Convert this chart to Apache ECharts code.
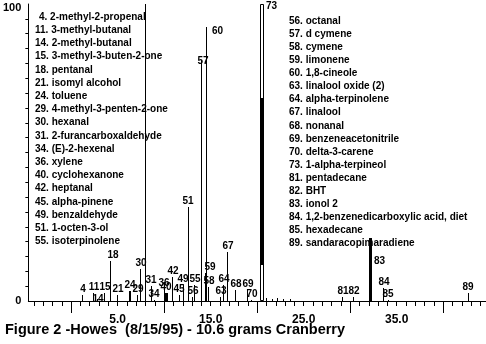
<!DOCTYPE html>
<html>
<head>
<meta charset="utf-8">
<script src="https://cdn.jsdelivr.net/npm/echarts@6/dist/echarts.min.js"></script>
<style>
  html, body { margin: 0; padding: 0; background: #fff; }
  #chart { width: 486px; height: 344px; }
</style>
</head>
<body>
<div id="chart"></div>
<script>
// Peak numbers, retention times (min) and relative abundance (%)
const peakIds = ['4', '11', '14', '15', '18', '21', '24', '29', '30', '', '31', '34', '36', '40', '42', '45',
  '49', '51', '55', '56', '57', '58', '59', '60', '63', '64', '67', '68', '69', '70', '73',
  '', '', '', '', '', '81', '82', '83', '84', '85', '89'];
const peakTimes = [1.27, 2.44, 2.87, 3.62, 4.26, 5.0, 6.3, 7.15, 7.46, 7.99, 8.63, 8.96, 10.0, 10.24, 10.9, 11.6,
  12.06, 12.57, 13.3, 13.1, 13.98, 14.8, 14.4, 14.6, 16.1, 16.4, 16.85, 17.7, 19.0, 19.4, 20.5,
  21.0, 21.6, 22.2, 22.8, 23.6, 29.2, 30.4, 32.2, 33.6, 34.1, 42.7];
const peakHeights = [2.0, 2.7, 0.8, 2.7, 13.5, 2.0, 3.4, 2.0, 10.8, 100, 5.0, 0.5, 4.0, 2.7, 8.0, 2.0,
  5.4, 31.6, 5.4, 1.3, 81.0, 4.7, 9.4, 92.3, 1.3, 5.4, 16.5, 3.7, 3.7, 0.5, 100,
  1.0, 0.7, 1.0, 0.7, 0.7, 1.4, 1.4, 21.2, 4.4, 0.5, 2.7];

// Solid core of the broad peak 73 (abundance range drawn filled)
const core73 = [12.1, 68.4];

// Axis ticks and labels
const xMajorTicks = [0, 10, 20, 30, 40];
const xLabelValues = [5, 15, 25, 35];
const xMinorTicks = [];
for (let v = -4; v <= 44; v++) xMinorTicks.push(v);
const yTicks = [5, 10, 15, 20, 25, 30, 35, 40, 45, 50, 55, 60, 65, 70, 75, 80, 85, 90, 95];
const yLabelValues = [0, 100];

// Compound legend
const legendLeft = [
  '4. 2-methyl-2-propenal', '11. 3-methyl-butanal', '14. 2-methyl-butanal', '15. 3-methyl-3-buten-2-one',
  '18. pentanal', '21. isomyl alcohol', '24. toluene', '29. 4-methyl-3-penten-2-one', '30. hexanal',
  '31. 2-furancarboxaldehyde', '34. (E)-2-hexenal', '36. xylene', '40. cyclohexanone', '42. heptanal',
  '45. alpha-pinene', '49. benzaldehyde', '51. 1-octen-3-ol', '55. isoterpinolene'
];
const legendRight = [
  '56. octanal', '57. d cymene', '58. cymene', '59. limonene', '60. 1,8-cineole', '63. linalool oxide (2)',
  '64. alpha-terpinolene', '67. linalool', '68. nonanal', '69. benzeneacetonitrile', '70. delta-3-carene',
  '73. 1-alpha-terpineol', '81. pentadecane', '82. BHT', '83. ionol 2',
  '84. 1,2-benzenedicarboxylic acid, diet', '85. hexadecane', '89. sandaracopimaradiene'
];
const caption = 'Figure 2 -Howes  (8/15/95) - 10.6 grams Cranberry';

// ---- styling ----
const FONT = '"Liberation Sans", Arial, sans-serif';
const barWidths = { '40': 3, '83': 3, '24': 2, '73': 4 };
// label placement tweaks
const labelTweaks = {
  '57': { dx: 2, dy: 7 },
  '59': { dx: 5, dy: 0 },
  '18': { dx: 2, dy: 0 },
  '60': { dx: 5, dy: 0, align: 'left', vAlign: 'top' },
  '73': { dx: 4, dy: -2, align: 'left', vAlign: 'top' },
  '83': { dx: 3, dy: 19, align: 'left', vAlign: 'top' },
  '14': { dx: 0, dy: 6 }
};

const peakData = peakTimes.map((t, i) => [t, peakHeights[i]]);

function renderPeak(params, api) {
  const id = peakIds[params.dataIndex];
  const t = api.value(0), h = api.value(1);
  const top = api.coord([t, h]);
  const base = api.coord([t, 0]);
  const w = barWidths[id] || 1;
  const x = Math.round(top[0] - w / 2);
  const children = [];
  if (id === '73') {
    children.push({
      type: 'rect',
      shape: { x: x + 0.5, y: Math.round(top[1]) + 0.5, width: w - 1, height: Math.round(base[1] - top[1]) - 1 },
      style: { fill: '#fff', stroke: '#000', lineWidth: 1 }
    });
    const c0 = api.coord([t, core73[0]]), c1 = api.coord([t, core73[1]]);
    children.push({
      type: 'rect',
      shape: { x: x, y: Math.round(c1[1]), width: w, height: Math.round(c0[1] - c1[1]) },
      style: { fill: '#000' }
    });
  } else {
    children.push({
      type: 'rect',
      shape: { x: x, y: Math.round(top[1]), width: w, height: Math.round(base[1]) - Math.round(top[1]) },
      style: { fill: '#000' }
    });
  }
  if (id) {
    const tw = labelTweaks[id] || {};
    children.push({
      type: 'text',
      x: Math.round(top[0]) + (tw.dx || 0),
      y: Math.round(top[1]) - 1 + (tw.dy || 0),
      style: {
        text: id,
        fill: '#000',
        font: 'bold 10px ' + FONT,
        align: tw.align || 'center',
        verticalAlign: tw.vAlign || 'bottom'
      }
    });
  }
  return { type: 'group', children: children };
}

const chart = echarts.init(document.getElementById('chart'), null, { renderer: 'canvas' });

const legendGraphics = [];
legendLeft.forEach((s, i) => {
  legendGraphics.push({
    type: 'text', left: i === 0 ? 39 : 35, top: 12 + i * 13.2,
    style: { text: s, fill: '#000', font: 'bold 10px ' + FONT }
  });
});
legendRight.forEach((s, i) => {
  legendGraphics.push({
    type: 'text', left: 289, top: 16 + i * 13.1,
    style: { text: s, fill: '#000', font: 'bold 10px ' + FONT }
  });
});
legendGraphics.push({
  type: 'text', left: 5, top: 322,
  style: { text: caption, fill: '#000', font: 'bold 14.5px ' + FONT }
});

chart.setOption({
  animation: false,
  backgroundColor: '#fff',
  grid: { left: 25, right: 0, top: 4, bottom: 43, containLabel: false },
  xAxis: [
    {
      type: 'value', min: -4.6, max: 44.6,
      axisLine: { show: true, onZero: false, lineStyle: { color: '#000', width: 1 } },
      axisTick: { show: true, customValues: xMajorTicks, length: 12, lineStyle: { color: '#000' } },
      axisLabel: {
        show: true, customValues: xLabelValues, margin: 13,
        formatter: v => v.toFixed(1),
        color: '#000', fontFamily: FONT, fontWeight: 'bold', fontSize: 12
      },
      splitLine: { show: false }
    },
    {
      type: 'value', min: -4.6, max: 44.6, position: 'bottom',
      axisLine: { show: false, onZero: false },
      axisTick: { show: true, customValues: xMinorTicks, length: 5, lineStyle: { color: '#000' } },
      axisLabel: { show: false },
      splitLine: { show: false }
    }
  ],
  yAxis: [
    {
      type: 'value', min: 0, max: 100, position: 'left',
      axisLine: { show: true, onZero: false, lineStyle: { color: '#000', width: 1 } },
      axisTick: { show: true, customValues: yTicks, length: 3, lineStyle: { color: '#000' } },
      axisLabel: {
        show: true, customValues: yLabelValues, margin: 7,
        color: '#000', fontFamily: FONT, fontWeight: 'bold', fontSize: 11,
        formatter: v => v === 100 ? '{t|100}' : '0',
        rich: { t: { padding: [8, 0, 0, 0], fontFamily: FONT, fontWeight: 'bold', fontSize: 11, color: '#000' } }
      },
      splitLine: { show: false }
    }
  ],
  graphic: legendGraphics,
  series: [
    {
      type: 'custom',
      xAxisIndex: 0, yAxisIndex: 0,
      renderItem: renderPeak,
      data: peakData,
      clip: false
    }
  ]
});
</script>
</body>
</html>
